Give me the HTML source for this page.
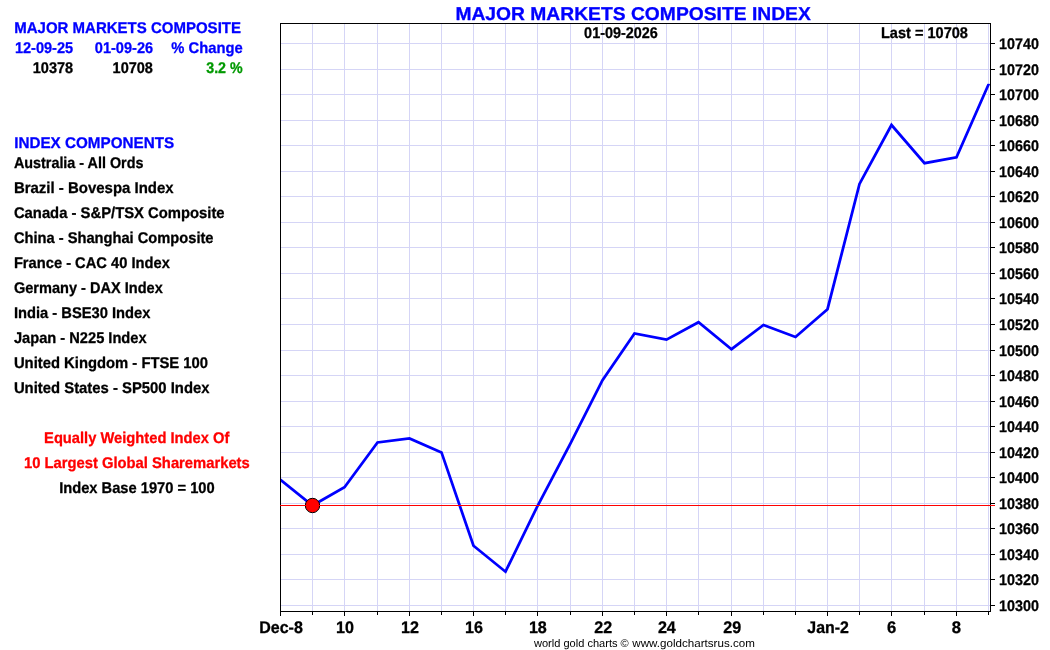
<!DOCTYPE html>
<html lang="en">
<head>
<meta charset="utf-8">
<title>Major Markets Composite Index</title>
<style>
html,body{margin:0;padding:0;background:#fff;}
body{width:1050px;height:650px;overflow:hidden;position:relative;font-family:"Liberation Sans",Arial,Helvetica,sans-serif;}
svg{position:absolute;left:0;top:0;display:block;}
text{font-family:"Liberation Sans",Arial,Helvetica,sans-serif;font-weight:bold;text-rendering:geometricPrecision;stroke-width:0.3px;stroke-linejoin:round;}
.b{stroke:#0000ff;}.k{stroke:#000;}.r{stroke:#ff0000;}.g{stroke:#009900;}
.b{fill:#0000ff;}
.k{fill:#000;}
.r{fill:#ff0000;}
.g{fill:#009900;}
.grid line{stroke:#d5d5f6;stroke-width:1;shape-rendering:crispEdges;}
.ax line{stroke:#000;stroke-width:1;shape-rendering:crispEdges;}
</style>
</head>
<body>
<svg width="1050" height="650" viewBox="0 0 1050 650">
<rect x="0" y="0" width="1050" height="650" fill="#ffffff"/>

<g class="grid">
<line x1="312.5" y1="24" x2="312.5" y2="611"/>
<line x1="344.5" y1="24" x2="344.5" y2="611"/>
<line x1="377.5" y1="24" x2="377.5" y2="611"/>
<line x1="409.5" y1="24" x2="409.5" y2="611"/>
<line x1="441.5" y1="24" x2="441.5" y2="611"/>
<line x1="473.5" y1="24" x2="473.5" y2="611"/>
<line x1="505.5" y1="24" x2="505.5" y2="611"/>
<line x1="537.5" y1="24" x2="537.5" y2="611"/>
<line x1="570.5" y1="24" x2="570.5" y2="611"/>
<line x1="602.5" y1="24" x2="602.5" y2="611"/>
<line x1="634.5" y1="24" x2="634.5" y2="611"/>
<line x1="666.5" y1="24" x2="666.5" y2="611"/>
<line x1="698.5" y1="24" x2="698.5" y2="611"/>
<line x1="731.5" y1="24" x2="731.5" y2="611"/>
<line x1="763.5" y1="24" x2="763.5" y2="611"/>
<line x1="795.5" y1="24" x2="795.5" y2="611"/>
<line x1="827.5" y1="24" x2="827.5" y2="611"/>
<line x1="859.5" y1="24" x2="859.5" y2="611"/>
<line x1="891.5" y1="24" x2="891.5" y2="611"/>
<line x1="924.5" y1="24" x2="924.5" y2="611"/>
<line x1="956.5" y1="24" x2="956.5" y2="611"/>
<line x1="988.5" y1="24" x2="988.5" y2="611"/>
<line x1="281" y1="605.5" x2="990" y2="605.5"/>
<line x1="281" y1="579.5" x2="990" y2="579.5"/>
<line x1="281" y1="554.5" x2="990" y2="554.5"/>
<line x1="281" y1="528.5" x2="990" y2="528.5"/>
<line x1="281" y1="503.5" x2="990" y2="503.5"/>
<line x1="281" y1="477.5" x2="990" y2="477.5"/>
<line x1="281" y1="452.5" x2="990" y2="452.5"/>
<line x1="281" y1="426.5" x2="990" y2="426.5"/>
<line x1="281" y1="401.5" x2="990" y2="401.5"/>
<line x1="281" y1="375.5" x2="990" y2="375.5"/>
<line x1="281" y1="350.5" x2="990" y2="350.5"/>
<line x1="281" y1="324.5" x2="990" y2="324.5"/>
<line x1="281" y1="298.5" x2="990" y2="298.5"/>
<line x1="281" y1="273.5" x2="990" y2="273.5"/>
<line x1="281" y1="247.5" x2="990" y2="247.5"/>
<line x1="281" y1="222.5" x2="990" y2="222.5"/>
<line x1="281" y1="196.5" x2="990" y2="196.5"/>
<line x1="281" y1="171.5" x2="990" y2="171.5"/>
<line x1="281" y1="145.5" x2="990" y2="145.5"/>
<line x1="281" y1="120.5" x2="990" y2="120.5"/>
<line x1="281" y1="94.5" x2="990" y2="94.5"/>
<line x1="281" y1="69.5" x2="990" y2="69.5"/>
<line x1="281" y1="43.5" x2="990" y2="43.5"/>
</g>
<clipPath id="cp"><rect x="281" y="83.7" width="709" height="527.3"/></clipPath>
<polyline clip-path="url(#cp)" points="280.5,479.9 312.5,505.5 344.5,487.2 377.5,442.5 409.5,438.5 441.5,452.4 473.5,545.8 505.5,571.7 537.5,506.0 570.5,443.4 602.5,380.2 634.5,333.5 666.5,339.6 698.5,322.2 731.5,349.2 763.5,325.0 795.5,337.0 827.5,309.2 859.5,183.9 891.5,125.0 924.5,163.2 956.5,157.4 988.5,84.6" fill="none" stroke="#0000ff" stroke-width="2.75" stroke-linejoin="miter" stroke-linecap="square"/>
<circle cx="312.5" cy="505.5" r="7.2" fill="#ff0000" stroke="#000" stroke-width="1"/>
<g class="ax">
<rect x="280.5" y="23.5" width="710" height="588" fill="none" stroke="#000" stroke-width="1" shape-rendering="crispEdges"/>
<line x1="280.5" y1="612" x2="280.5" y2="616"/>
<line x1="312.5" y1="612" x2="312.5" y2="615"/>
<line x1="344.5" y1="612" x2="344.5" y2="616"/>
<line x1="377.5" y1="612" x2="377.5" y2="615"/>
<line x1="409.5" y1="612" x2="409.5" y2="616"/>
<line x1="441.5" y1="612" x2="441.5" y2="615"/>
<line x1="473.5" y1="612" x2="473.5" y2="616"/>
<line x1="505.5" y1="612" x2="505.5" y2="615"/>
<line x1="537.5" y1="612" x2="537.5" y2="616"/>
<line x1="570.5" y1="612" x2="570.5" y2="615"/>
<line x1="602.5" y1="612" x2="602.5" y2="616"/>
<line x1="634.5" y1="612" x2="634.5" y2="615"/>
<line x1="666.5" y1="612" x2="666.5" y2="616"/>
<line x1="698.5" y1="612" x2="698.5" y2="615"/>
<line x1="731.5" y1="612" x2="731.5" y2="616"/>
<line x1="763.5" y1="612" x2="763.5" y2="615"/>
<line x1="795.5" y1="612" x2="795.5" y2="615"/>
<line x1="827.5" y1="612" x2="827.5" y2="616"/>
<line x1="859.5" y1="612" x2="859.5" y2="615"/>
<line x1="891.5" y1="612" x2="891.5" y2="616"/>
<line x1="924.5" y1="612" x2="924.5" y2="615"/>
<line x1="956.5" y1="612" x2="956.5" y2="616"/>
<line x1="988.5" y1="612" x2="988.5" y2="615"/>
<line x1="991" y1="605.5" x2="995" y2="605.5"/>
<line x1="991" y1="579.5" x2="995" y2="579.5"/>
<line x1="991" y1="554.5" x2="995" y2="554.5"/>
<line x1="991" y1="528.5" x2="995" y2="528.5"/>
<line x1="991" y1="503.5" x2="995" y2="503.5"/>
<line x1="991" y1="477.5" x2="995" y2="477.5"/>
<line x1="991" y1="452.5" x2="995" y2="452.5"/>
<line x1="991" y1="426.5" x2="995" y2="426.5"/>
<line x1="991" y1="401.5" x2="995" y2="401.5"/>
<line x1="991" y1="375.5" x2="995" y2="375.5"/>
<line x1="991" y1="350.5" x2="995" y2="350.5"/>
<line x1="991" y1="324.5" x2="995" y2="324.5"/>
<line x1="991" y1="298.5" x2="995" y2="298.5"/>
<line x1="991" y1="273.5" x2="995" y2="273.5"/>
<line x1="991" y1="247.5" x2="995" y2="247.5"/>
<line x1="991" y1="222.5" x2="995" y2="222.5"/>
<line x1="991" y1="196.5" x2="995" y2="196.5"/>
<line x1="991" y1="171.5" x2="995" y2="171.5"/>
<line x1="991" y1="145.5" x2="995" y2="145.5"/>
<line x1="991" y1="120.5" x2="995" y2="120.5"/>
<line x1="991" y1="94.5" x2="995" y2="94.5"/>
<line x1="991" y1="69.5" x2="995" y2="69.5"/>
<line x1="991" y1="43.5" x2="995" y2="43.5"/>
</g>
<line x1="280" y1="505.5" x2="995" y2="505.5" stroke="#ff0000" stroke-width="1" shape-rendering="crispEdges"/>
<text class="b" font-size="15.55" transform="translate(14.25,32.85) scale(0.9650,1)">MAJOR MARKETS COMPOSITE</text>
<text class="b" font-size="15.55" transform="translate(14.88,52.85) scale(0.9359,1)">12-09-25</text>
<text class="b" font-size="15.55" transform="translate(94.82,52.85) scale(0.9359,1)">01-09-26</text>
<text class="b" font-size="15.55" transform="translate(171.35,52.85) scale(0.9496,1)">% Change</text>
<text class="k" font-size="15.55" transform="translate(32.78,72.85) scale(0.9331,1)">10378</text>
<text class="k" font-size="15.55" transform="translate(112.58,72.85) scale(0.9331,1)">10708</text>
<text class="g" font-size="15.55" transform="translate(206.27,72.85) scale(0.9143,1)">3.2 %</text>
<text class="b" font-size="15.55" transform="translate(14.24,147.85) scale(0.9791,1)">INDEX COMPONENTS</text>
<text class="k" font-size="15.55" transform="translate(13.90,167.85) scale(0.9235,1)">Australia - All Ords</text>
<text class="k" font-size="15.55" transform="translate(13.90,192.85) scale(0.9628,1)">Brazil - Bovespa Index</text>
<text class="k" font-size="15.55" transform="translate(13.90,217.85) scale(0.9527,1)">Canada - S&amp;P/TSX Composite</text>
<text class="k" font-size="15.55" transform="translate(13.90,242.85) scale(0.9432,1)">China - Shanghai Composite</text>
<text class="k" font-size="15.55" transform="translate(13.90,267.85) scale(0.9448,1)">France - CAC 40 Index</text>
<text class="k" font-size="15.55" transform="translate(13.90,292.85) scale(0.9367,1)">Germany - DAX Index</text>
<text class="k" font-size="15.55" transform="translate(13.90,317.85) scale(0.9462,1)">India - BSE30 Index</text>
<text class="k" font-size="15.55" transform="translate(13.90,342.85) scale(0.9423,1)">Japan - N225 Index</text>
<text class="k" font-size="15.55" transform="translate(13.90,367.85) scale(0.9524,1)">United Kingdom - FTSE 100</text>
<text class="k" font-size="15.55" transform="translate(13.90,392.85) scale(0.9552,1)">United States - SP500 Index</text>
<text class="r" font-size="15.55" transform="translate(44.07,442.85) scale(0.9461,1)">Equally Weighted Index Of</text>
<text class="r" font-size="15.55" transform="translate(23.96,467.85) scale(0.9501,1)">10 Largest Global Sharemarkets</text>
<text class="k" font-size="15.55" transform="translate(59.17,492.85) scale(0.9443,1)">Index Base 1970 = 100</text>
<text class="b" font-size="18.5" transform="translate(455.39,19.85) scale(1.0414,1)">MAJOR MARKETS COMPOSITE INDEX</text>
<text class="k" font-size="15.55" transform="translate(584.12,37.85) scale(0.9272,1)">01-09-2026</text>
<text class="k" font-size="15.55" transform="translate(880.98,37.85) scale(0.9356,1)">Last = 10708</text>
<text class="k" font-size="11.2" style="font-weight:normal;stroke:none" transform="translate(533.96,647.00) scale(0.9879,1)">world gold charts ©</text>
<text class="k" font-size="11.2" style="font-weight:normal;stroke:none" transform="translate(632.37,647.00) scale(1.0368,1)">www.goldchartsrus.com</text>
<text class="k" font-size="15.4" transform="translate(999.09,610.85) scale(0.9288,1)">10300</text>
<text class="k" font-size="15.4" transform="translate(999.09,584.85) scale(0.9288,1)">10320</text>
<text class="k" font-size="15.4" transform="translate(999.09,559.85) scale(0.9288,1)">10340</text>
<text class="k" font-size="15.4" transform="translate(999.09,533.85) scale(0.9288,1)">10360</text>
<text class="k" font-size="15.4" transform="translate(999.09,508.85) scale(0.9288,1)">10380</text>
<text class="k" font-size="15.4" transform="translate(999.09,482.85) scale(0.9288,1)">10400</text>
<text class="k" font-size="15.4" transform="translate(999.09,457.85) scale(0.9288,1)">10420</text>
<text class="k" font-size="15.4" transform="translate(999.09,431.85) scale(0.9288,1)">10440</text>
<text class="k" font-size="15.4" transform="translate(999.09,406.85) scale(0.9288,1)">10460</text>
<text class="k" font-size="15.4" transform="translate(999.09,380.85) scale(0.9288,1)">10480</text>
<text class="k" font-size="15.4" transform="translate(999.09,355.85) scale(0.9288,1)">10500</text>
<text class="k" font-size="15.4" transform="translate(999.09,329.85) scale(0.9288,1)">10520</text>
<text class="k" font-size="15.4" transform="translate(999.09,303.85) scale(0.9288,1)">10540</text>
<text class="k" font-size="15.4" transform="translate(999.09,278.85) scale(0.9288,1)">10560</text>
<text class="k" font-size="15.4" transform="translate(999.09,252.85) scale(0.9288,1)">10580</text>
<text class="k" font-size="15.4" transform="translate(999.09,227.85) scale(0.9288,1)">10600</text>
<text class="k" font-size="15.4" transform="translate(999.09,201.85) scale(0.9288,1)">10620</text>
<text class="k" font-size="15.4" transform="translate(999.09,176.85) scale(0.9288,1)">10640</text>
<text class="k" font-size="15.4" transform="translate(999.09,150.85) scale(0.9288,1)">10660</text>
<text class="k" font-size="15.4" transform="translate(999.09,125.85) scale(0.9288,1)">10680</text>
<text class="k" font-size="15.4" transform="translate(999.09,99.85) scale(0.9288,1)">10700</text>
<text class="k" font-size="15.4" transform="translate(999.09,74.85) scale(0.9288,1)">10720</text>
<text class="k" font-size="15.4" transform="translate(999.09,48.85) scale(0.9288,1)">10740</text>
<text class="k" font-size="16.8" transform="translate(259.19,632.85) scale(0.9546,1)">Dec-8</text>
<text class="k" font-size="16.8" transform="translate(335.99,632.85) scale(0.9600,1)">10</text>
<text class="k" font-size="16.8" transform="translate(400.99,632.85) scale(0.9600,1)">12</text>
<text class="k" font-size="16.8" transform="translate(464.99,632.85) scale(0.9600,1)">16</text>
<text class="k" font-size="16.8" transform="translate(528.91,632.85) scale(0.9600,1)">18</text>
<text class="k" font-size="16.8" transform="translate(594.23,632.85) scale(0.9600,1)">22</text>
<text class="k" font-size="16.8" transform="translate(657.91,632.85) scale(0.9600,1)">24</text>
<text class="k" font-size="16.8" transform="translate(723.23,632.85) scale(0.9600,1)">29</text>
<text class="k" font-size="16.8" transform="translate(807.29,632.85) scale(0.9487,1)">Jan-2</text>
<text class="k" font-size="16.8" transform="translate(886.93,632.85) scale(0.9900,1)">6</text>
<text class="k" font-size="16.8" transform="translate(951.84,632.85) scale(0.9900,1)">8</text>
</svg>
</body>
</html>
